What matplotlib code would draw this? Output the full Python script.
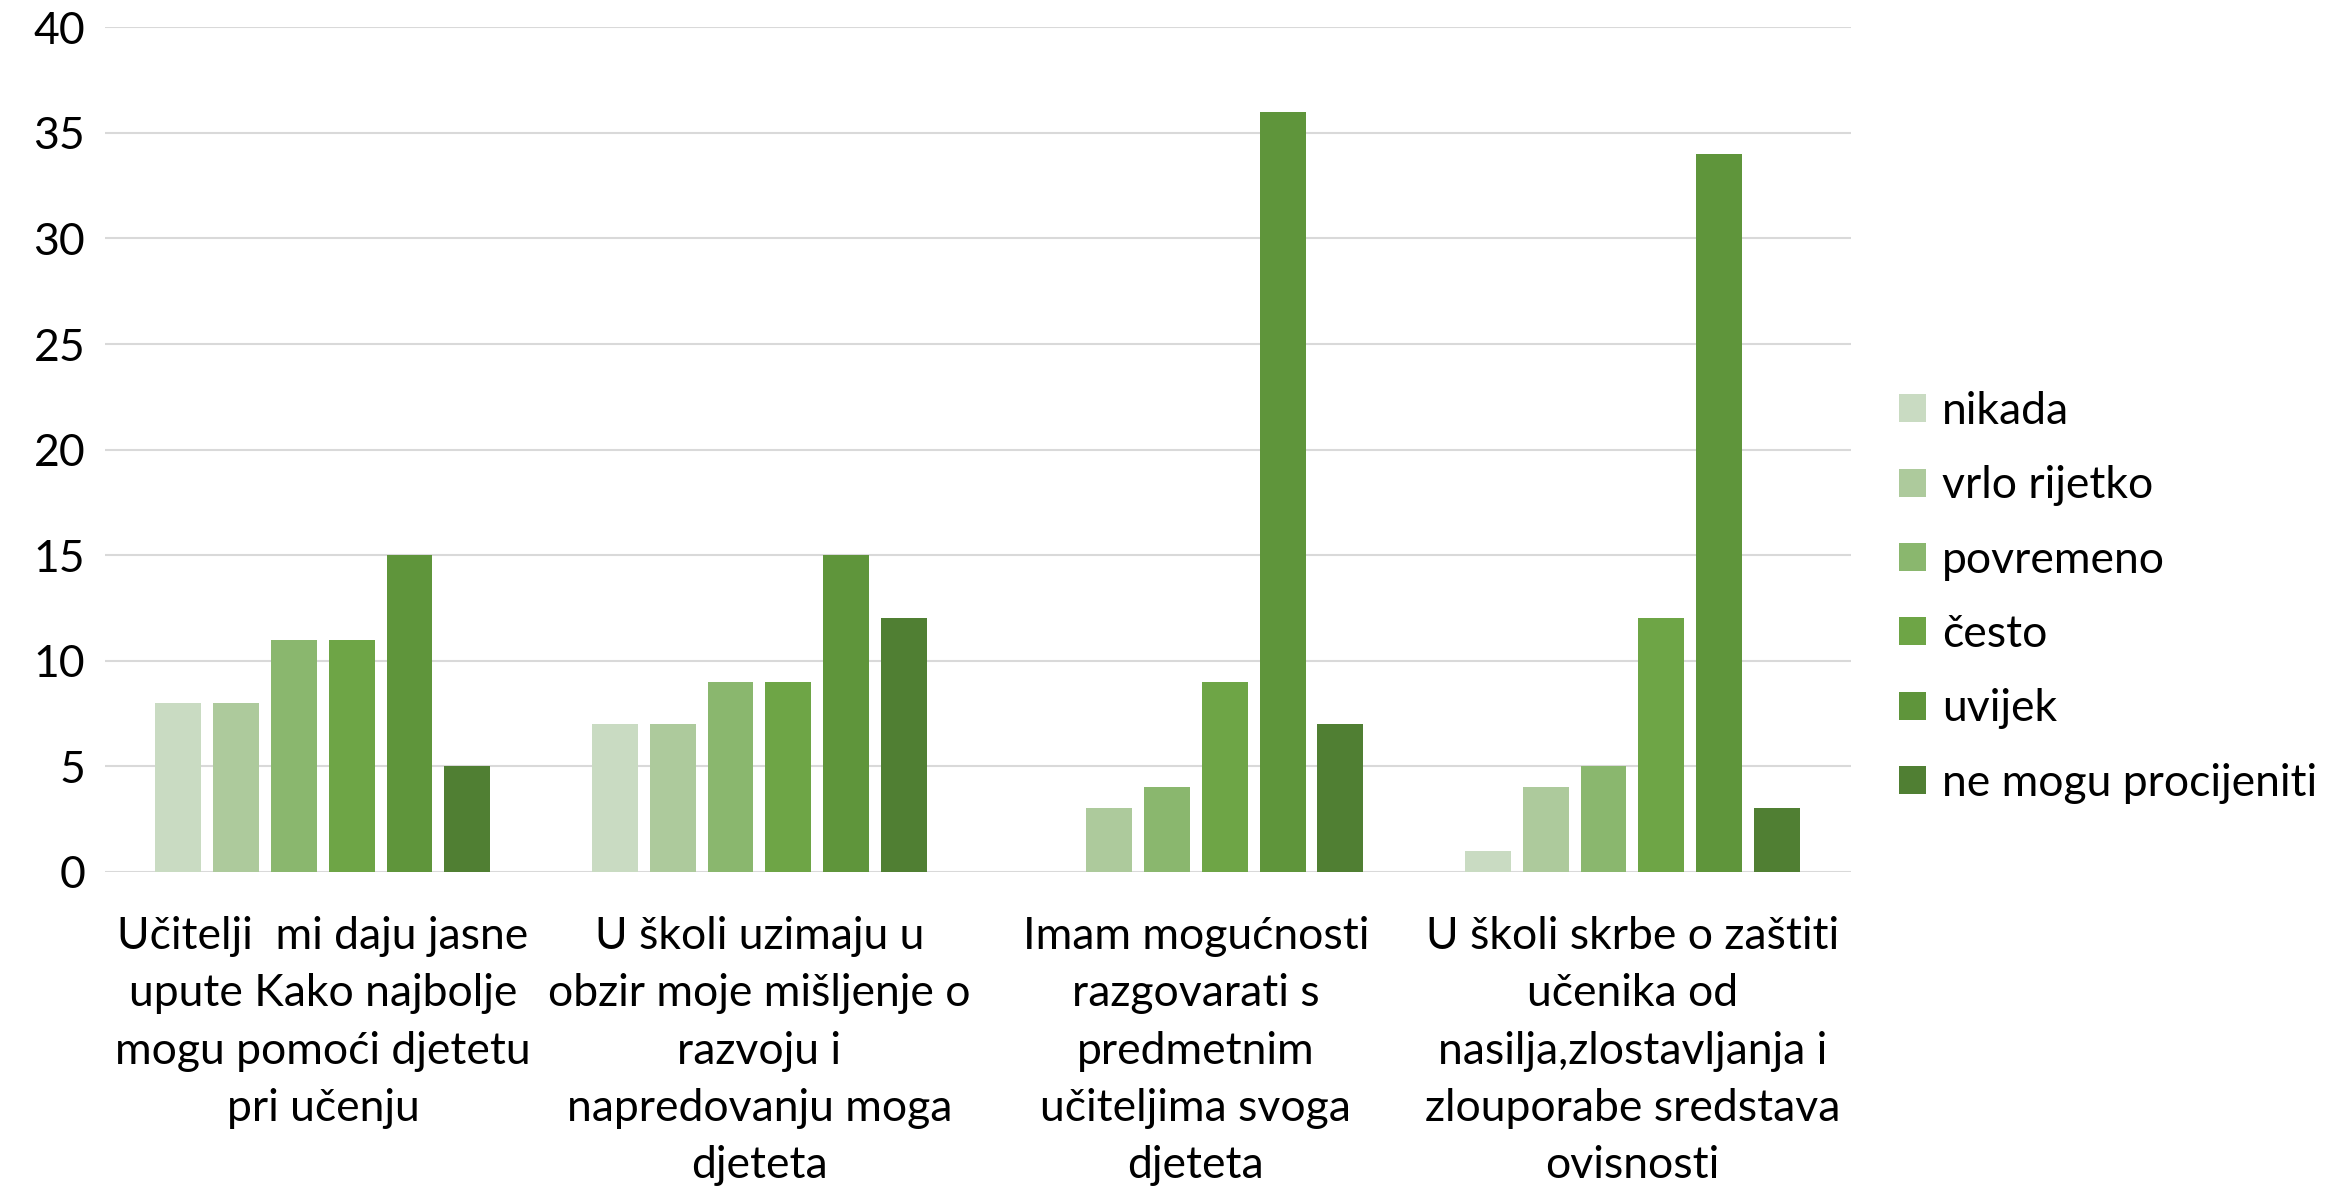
import matplotlib

matplotlib.use("Agg")
import matplotlib.pyplot as plt
import numpy as np

plt.rcParams["font.family"] = ["Lato", "DejaVu Sans"]

CATEGORIES = [
    "Učitelji  mi daju jasne\nupute Kako najbolje\nmogu pomoći djetetu\npri učenju",
    "U školi uzimaju u\nobzir moje mišljenje o\nrazvoju i\nnapredovanju moga\ndjeteta",
    "Imam mogućnosti\nrazgovarati s\npredmetnim\nučiteljima svoga\ndjeteta",
    "U školi skrbe o zaštiti\nučenika od\nnasilja,zlostavljanja i\nzlouporabe sredstava\novisnosti",
]
SERIES = ["nikada", "vrlo rijetko", "povremeno", "često", "uvijek", "ne mogu procijeniti"]
NIKADA = [8, 7, 0, 1]
VRLO_RIJETKO = [8, 7, 3, 4]
POVREMENO = [11, 9, 4, 5]
CESTO = [11, 9, 9, 12]
UVIJEK = [15, 15, 36, 34]
NE_MOGU = [5, 12, 7, 3]
COLORS = ["#c9dbc2", "#adca9c", "#8ab76e", "#6ea546", "#5f953b", "#507f33"]
Y_TICKS = [0, 5, 10, 15, 20, 25, 30, 35, 40]

values = [NIKADA, VRLO_RIJETKO, POVREMENO, CESTO, UVIJEK, NE_MOGU]

fig = plt.figure(figsize=(23.25, 11.91), dpi=100)
ax = fig.add_axes([0.045, 0.268, 0.751, 0.709])

x = np.arange(len(CATEGORIES))
slot = 0.1324
width = 0.105
for i, (name, vals, c) in enumerate(zip(SERIES, values, COLORS)):
    ax.bar(x + (i - 2.5) * slot, vals, width, color=c, label=name, zorder=3)

ax.set_xlim(-0.5, len(CATEGORIES) - 0.5)
ax.set_ylim(0, 40)
ax.set_yticks(Y_TICKS)
ax.yaxis.grid(True, color="#d9d9d9", lw=1.5, zorder=0)
for s in ax.spines.values():
    s.set_visible(False)
ax.tick_params(axis="both", length=0, labelsize=32, pad=14)
ax.set_xticks(x)
ax.set_xticklabels(CATEGORIES, fontsize=32, linespacing=1.49, va="top")
ax.tick_params(axis="x", pad=32)

ax.legend(loc="center left", bbox_to_anchor=(1.005, 0.325), frameon=False,
          fontsize=32, handlelength=0.6, handleheight=0.6, handletextpad=0.35,
          labelspacing=0.75)

fig.savefig("out.png", dpi=100)
